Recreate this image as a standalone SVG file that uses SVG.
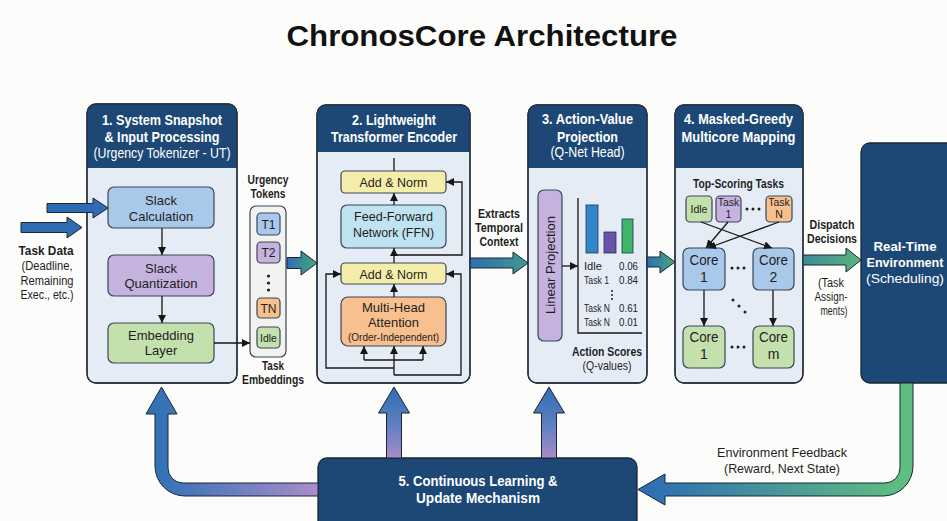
<svg xmlns="http://www.w3.org/2000/svg" width="947" height="521" viewBox="0 0 947 521">
<style>
text{font-family:"Liberation Sans",Arial,sans-serif;fill:#1e1e1e;text-anchor:middle}
.t{font-size:29px;font-weight:bold;fill:#111}
.hb{font-size:14px;font-weight:bold;fill:#fff}
.hr{font-size:14px;fill:#fff}
.lb{font-size:13px}
.sm{font-size:11px}
.bl{font-size:12px;font-weight:bold}
.rg{font-size:12px}
.panel{fill:#e6ecf6;stroke:#26303c;stroke-width:1.3}
.head{fill:#1d4876}
.frame{fill:none;stroke:#26303c;stroke-width:1.3}
.n{stroke:#3a4656;stroke-width:1.2}
.blue{fill:#a9c9ea}
.purp{fill:#c5b2de}
.green{fill:#c3e0ad}
.yel{fill:#f4eeaa}
.cyan{fill:#bfe3f0}
.orng{fill:#f7c08e}
.gray{fill:#f2f2f0}
.ln{fill:none;stroke:#161616;stroke-width:1.3}
.fat{stroke:#1a2633;stroke-width:1}
.dot{fill:#1e1e1e}
</style>
<defs>
<marker id="ah" viewBox="0 0 8 8" markerWidth="8" markerHeight="8" refX="8" refY="4" orient="auto" markerUnits="userSpaceOnUse"><path d="M0,0 L8,4 L0,8 z" fill="#161616"/></marker>
<linearGradient id="gBG" x1="0" y1="0" x2="1" y2="0"><stop offset="0" stop-color="#2f6db4"/><stop offset="1" stop-color="#45a97a"/></linearGradient>
<linearGradient id="gBT" x1="0" y1="0" x2="1" y2="0"><stop offset="0" stop-color="#2f6db4"/><stop offset="1" stop-color="#3f9a8c"/></linearGradient>
<linearGradient id="gTG" x1="0" y1="0" x2="1" y2="0"><stop offset="0" stop-color="#3c8c96"/><stop offset="1" stop-color="#5ab57c"/></linearGradient>
<linearGradient id="gUp" x1="0" y1="0" x2="0" y2="1"><stop offset="0" stop-color="#2f6db4"/><stop offset="0.5" stop-color="#5b7fc0"/><stop offset="1" stop-color="#a88ccb"/></linearGradient>
<linearGradient id="gL" gradientUnits="userSpaceOnUse" x1="318" y1="0" x2="160" y2="0"><stop offset="0" stop-color="#ab8ccb"/><stop offset="1" stop-color="#3472b6"/></linearGradient>
<linearGradient id="gR" gradientUnits="userSpaceOnUse" x1="905" y1="0" x2="645" y2="0"><stop offset="0" stop-color="#5fbf80"/><stop offset="1" stop-color="#2f6db4"/></linearGradient>
</defs>
<rect x="0" y="0" width="947" height="521" fill="#fcfcfb"/>
<text class="t" x="482" y="46" textLength="391" lengthAdjust="spacingAndGlyphs">ChronosCore Architecture</text>

<g id="input-labels">
<text class="bl" x="46" y="255" textLength="55" lengthAdjust="spacingAndGlyphs">Task Data</text>
<text class="rg" x="47" y="270" textLength="51" lengthAdjust="spacingAndGlyphs">(Deadline,</text>
<text class="rg" x="47" y="285" textLength="53" lengthAdjust="spacingAndGlyphs">Remaining</text>
<text class="rg" x="47" y="299" textLength="53" lengthAdjust="spacingAndGlyphs">Exec., etc.)</text>
</g>

<g id="box1">
<rect class="panel" x="87" y="104" width="150" height="279" rx="9"/>
<path class="head" d="M87,168 L87,113 Q87,104 96,104 L228,104 Q237,104 237,113 L237,168 Z"/>
<rect class="frame" x="87" y="104" width="150" height="279" rx="9"/>
<text class="hb" x="162" y="125" textLength="120" lengthAdjust="spacingAndGlyphs">1. System Snapshot</text>
<text class="hb" x="162" y="142" textLength="115" lengthAdjust="spacingAndGlyphs">&amp; Input Processing</text>
<text class="hr" x="162" y="158" textLength="137" lengthAdjust="spacingAndGlyphs">(Urgency Tokenizer - UT)</text>
<g id="slack-calc"><rect class="n blue" x="108" y="187" width="106" height="41" rx="6"/>
<text class="lb" x="161" y="205">Slack</text><text class="lb" x="161" y="221">Calculation</text></g>
<g id="slack-quant"><rect class="n purp" x="108" y="255" width="106" height="41" rx="6"/>
<text class="lb" x="161" y="273">Slack</text><text class="lb" x="161" y="288">Quantization</text></g>
<g id="embedding"><rect class="n green" x="108" y="323" width="106" height="40" rx="6"/>
<text class="lb" x="161" y="340">Embedding</text><text class="lb" x="161" y="355">Layer</text></g>
</g>

<g id="tokens">
<text class="bl" x="268" y="184" textLength="41" lengthAdjust="spacingAndGlyphs">Urgency</text>
<text class="bl" x="268" y="198" textLength="35" lengthAdjust="spacingAndGlyphs">Tokens</text>
<rect class="n gray" x="250" y="206" width="36" height="151" rx="6"/>
<rect class="n blue" x="257" y="213" width="23" height="22" rx="4"/><text class="rg" x="268.5" y="228.5">T1</text>
<rect class="n purp" x="257" y="242" width="23" height="21" rx="4"/><text class="rg" x="268.5" y="257">T2</text>
<circle class="dot" cx="268.5" cy="276" r="1.6"/><circle class="dot" cx="268.5" cy="283" r="1.6"/><circle class="dot" cx="268.5" cy="290" r="1.6"/>
<rect class="n orng" x="257" y="298" width="23" height="20" rx="4"/><text class="rg" x="268.5" y="312.5">TN</text>
<rect class="n green" x="257" y="327" width="23" height="21" rx="4"/><text x="268.5" y="341.5" style="font-size:10.5px">Idle</text>
<text class="bl" x="273" y="370" textLength="22" lengthAdjust="spacingAndGlyphs">Task</text>
<text class="bl" x="273" y="384" textLength="62" lengthAdjust="spacingAndGlyphs">Embeddings</text>
</g>

<g id="box2">
<rect class="panel" x="317" y="105" width="153" height="278" rx="9"/>
<path class="head" d="M317,152 L317,114 Q317,105 326,105 L461,105 Q470,105 470,114 L470,152 Z"/>
<rect class="frame" x="317" y="105" width="153" height="278" rx="9"/>
<text class="hb" x="394" y="125" textLength="84" lengthAdjust="spacingAndGlyphs">2. Lightweight</text>
<text class="hb" x="394" y="142" textLength="126" lengthAdjust="spacingAndGlyphs">Transformer Encoder</text>
<g id="addnorm-top"><rect class="n yel" x="341" y="171" width="105" height="22" rx="4"/>
<text class="lb" x="393.5" y="187" textLength="68" lengthAdjust="spacingAndGlyphs">Add &amp; Norm</text></g>
<g id="ffn"><rect class="n cyan" x="341" y="205" width="105" height="43" rx="6"/>
<text class="lb" x="393.5" y="221" textLength="79" lengthAdjust="spacingAndGlyphs">Feed-Forward</text>
<text class="lb" x="393.5" y="237" textLength="81" lengthAdjust="spacingAndGlyphs">Network (FFN)</text></g>
<g id="addnorm-bottom"><rect class="n yel" x="341" y="263" width="105" height="21" rx="4"/>
<text class="lb" x="393.5" y="278.5" textLength="68" lengthAdjust="spacingAndGlyphs">Add &amp; Norm</text></g>
<g id="mha"><rect class="n orng" x="341" y="297" width="105" height="49" rx="7"/>
<text class="lb" x="393.5" y="312" textLength="63" lengthAdjust="spacingAndGlyphs">Multi-Head</text>
<text class="lb" x="393.5" y="327" textLength="51" lengthAdjust="spacingAndGlyphs">Attention</text>
<text x="393.5" y="341" style="font-size:10.5px" textLength="91" lengthAdjust="spacingAndGlyphs">(Order-Independent)</text></g>
</g>

<g id="context-label">
<text class="bl" x="499" y="218" textLength="42" lengthAdjust="spacingAndGlyphs">Extracts</text>
<text class="bl" x="499" y="232" textLength="48" lengthAdjust="spacingAndGlyphs">Temporal</text>
<text class="bl" x="499" y="246" textLength="39" lengthAdjust="spacingAndGlyphs">Context</text>
</g>

<g id="box3">
<rect class="panel" x="528" y="105" width="119" height="278" rx="9"/>
<path class="head" d="M528,168 L528,114 Q528,105 537,105 L638,105 Q647,105 647,114 L647,168 Z"/>
<rect class="frame" x="528" y="105" width="119" height="278" rx="9"/>
<text class="hb" x="587.5" y="124" textLength="91" lengthAdjust="spacingAndGlyphs">3. Action-Value</text>
<text class="hb" x="587.5" y="142" textLength="61" lengthAdjust="spacingAndGlyphs">Projection</text>
<text class="hr" x="587.5" y="157" textLength="74" lengthAdjust="spacingAndGlyphs">(Q-Net Head)</text>
<g id="linear-proj"><rect class="n purp" x="538" y="190" width="24" height="151" rx="6"/>
<text class="lb" transform="translate(555,265) rotate(-90)" x="0" y="0" textLength="98" lengthAdjust="spacingAndGlyphs">Linear Projection</text></g>
<g id="scores">
<path class="ln" d="M578,198 L578,333 L642,333"/>
<rect x="586" y="205" width="12" height="48" fill="#2f86c8" stroke="#1f3550" stroke-width="0.8"/>
<rect x="604" y="232" width="12" height="21" fill="#6a52a8" stroke="#1f3550" stroke-width="0.8"/>
<rect x="622" y="219" width="11" height="34" fill="#3fb56a" stroke="#1f3550" stroke-width="0.8"/>
<text class="sm" x="584" y="270" style="text-anchor:start" textLength="18" lengthAdjust="spacingAndGlyphs">Idle</text><text class="sm" x="638" y="270" style="text-anchor:end" textLength="19" lengthAdjust="spacingAndGlyphs">0.06</text>
<text class="sm" x="584" y="284" style="text-anchor:start" textLength="25" lengthAdjust="spacingAndGlyphs">Task 1</text><text class="sm" x="638" y="284" style="text-anchor:end" textLength="19" lengthAdjust="spacingAndGlyphs">0.84</text>
<circle class="dot" cx="612" cy="291" r="1"/><circle class="dot" cx="612" cy="295" r="1"/><circle class="dot" cx="612" cy="299" r="1"/>
<text class="sm" x="584" y="312" style="text-anchor:start" textLength="26" lengthAdjust="spacingAndGlyphs">Task N</text><text class="sm" x="638" y="312" style="text-anchor:end" textLength="19" lengthAdjust="spacingAndGlyphs">0.61</text>
<text class="sm" x="584" y="326" style="text-anchor:start" textLength="26" lengthAdjust="spacingAndGlyphs">Task N</text><text class="sm" x="638" y="326" style="text-anchor:end" textLength="19" lengthAdjust="spacingAndGlyphs">0.01</text>
</g>
<text class="bl" x="607" y="356" textLength="70" lengthAdjust="spacingAndGlyphs">Action Scores</text>
<text class="rg" x="607" y="370" textLength="49" lengthAdjust="spacingAndGlyphs">(Q-values)</text>
</g>

<g id="box4">
<rect class="panel" x="675" y="105" width="128" height="278" rx="9"/>
<path class="head" d="M675,168 L675,114 Q675,105 684,105 L794,105 Q803,105 803,114 L803,168 Z"/>
<rect class="frame" x="675" y="105" width="128" height="278" rx="9"/>
<text class="hb" x="738.5" y="124" textLength="109" lengthAdjust="spacingAndGlyphs">4. Masked-Greedy</text>
<text class="hb" x="738.5" y="142" textLength="114" lengthAdjust="spacingAndGlyphs">Multicore Mapping</text>
<text class="bl" x="738.5" y="188" textLength="91" lengthAdjust="spacingAndGlyphs">Top-Scoring Tasks</text>
<g id="task-idle"><rect class="n green" x="686" y="196" width="26" height="26" rx="4"/><text x="699" y="213" style="font-size:10.5px">Idle</text></g>
<g id="task-1"><rect class="n purp" x="716" y="196" width="25" height="26" rx="4"/><text x="728.5" y="206" style="font-size:10.5px">Task</text><text x="728.5" y="218" style="font-size:10.5px">1</text></g>
<circle class="dot" cx="747" cy="209" r="1.5"/><circle class="dot" cx="753" cy="209" r="1.5"/><circle class="dot" cx="759" cy="209" r="1.5"/>
<g id="task-n"><rect class="n orng" x="766" y="196" width="26" height="26" rx="4"/><text x="779" y="206" style="font-size:10.5px">Task</text><text x="779" y="218" style="font-size:10.5px">N</text></g>
<g id="core1"><rect class="n blue" x="683" y="248" width="42" height="42" rx="6"/><text x="704" y="265" style="font-size:14px" textLength="29" lengthAdjust="spacingAndGlyphs">Core</text><text x="704" y="282" style="font-size:14px">1</text></g>
<circle class="dot" cx="732" cy="268" r="1.5"/><circle class="dot" cx="738" cy="268" r="1.5"/><circle class="dot" cx="744" cy="268" r="1.5"/>
<g id="core2"><rect class="n blue" x="753" y="248" width="41" height="42" rx="6"/><text x="773.5" y="265" style="font-size:14px" textLength="29" lengthAdjust="spacingAndGlyphs">Core</text><text x="773.5" y="282" style="font-size:14px">2</text></g>
<circle class="dot" cx="733" cy="300" r="1.5"/><circle class="dot" cx="739" cy="306" r="1.5"/><circle class="dot" cx="745" cy="312" r="1.5"/>
<g id="core1b"><rect class="n green" x="683" y="326" width="42" height="42" rx="6"/><text x="704" y="342" style="font-size:14px" textLength="29" lengthAdjust="spacingAndGlyphs">Core</text><text x="704" y="359" style="font-size:14px">1</text></g>
<circle class="dot" cx="732" cy="347" r="1.5"/><circle class="dot" cx="738" cy="347" r="1.5"/><circle class="dot" cx="744" cy="347" r="1.5"/>
<g id="corem"><rect class="n green" x="753" y="326" width="41" height="42" rx="6"/><text x="773.5" y="342" style="font-size:14px" textLength="29" lengthAdjust="spacingAndGlyphs">Core</text><text x="773.5" y="359" style="font-size:14px">m</text></g>
</g>

<g id="dispatch-label">
<text class="bl" x="832" y="229" textLength="45" lengthAdjust="spacingAndGlyphs">Dispatch</text>
<text class="bl" x="832" y="243" textLength="50" lengthAdjust="spacingAndGlyphs">Decisions</text>
<text class="rg" x="831" y="287" textLength="26" lengthAdjust="spacingAndGlyphs">(Task</text>
<text class="rg" x="831" y="301" textLength="33" lengthAdjust="spacingAndGlyphs">Assign-</text>
<text class="rg" x="834" y="315" textLength="27" lengthAdjust="spacingAndGlyphs">ments)</text>
</g>

<g id="environment">
<rect x="861" y="143" width="100" height="240" rx="9" fill="#1d4876" stroke="#1a2633" stroke-width="1.3"/>
<text class="hb" x="905" y="251" style="font-size:13.5px" textLength="63" lengthAdjust="spacingAndGlyphs">Real-Time</text>
<text class="hb" x="905" y="267" style="font-size:13px" textLength="77" lengthAdjust="spacingAndGlyphs">Environment</text>
<text class="hr" x="905" y="283" style="font-size:13.5px" textLength="78" lengthAdjust="spacingAndGlyphs">(Scheduling)</text>
</g>

<g id="box5">
<rect x="318" y="458" width="319" height="75" rx="9" fill="#1d4876" stroke="#1a2633" stroke-width="1.3"/>
<text class="hb" x="478" y="486" textLength="159" lengthAdjust="spacingAndGlyphs">5. Continuous Learning &amp;</text>
<text class="hb" x="478" y="503" textLength="124" lengthAdjust="spacingAndGlyphs">Update Mechanism</text>
</g>

<g id="feedback-label">
<text class="rg" x="782" y="457" style="font-size:13px" textLength="130" lengthAdjust="spacingAndGlyphs">Environment Feedback</text>
<text class="rg" x="782" y="473" style="font-size:13px" textLength="116" lengthAdjust="spacingAndGlyphs">(Reward, Next State)</text>
</g>

<g id="connectors">
<path class="fat" fill="#2e6db3" d="M47,203.5 L93,203.5 L93,198 L108,208 L93,218 L93,212.5 L47,212.5 Z"/>
<path class="fat" fill="#2e6db3" d="M21,222.5 L67,222.5 L67,217 L82,227.5 L67,238 L67,232.5 L21,232.5 Z"/>
<path class="fat" fill="url(#gBG)" d="M287,257.5 L301,257.5 L301,251 L317,263 L301,275 L301,268.5 L287,268.5 Z"/>
<path class="fat" fill="url(#gBT)" d="M470,258 L513,258 L513,252 L528,263 L513,274 L513,268 L470,268 Z"/>
<path class="fat" fill="url(#gBG)" d="M647,257 L660,257 L660,251 L675,262 L660,273 L660,267 L647,267 Z"/>
<path class="fat" fill="url(#gTG)" d="M803,255 L846,255 L846,248 L861,260 L846,272 L846,265 L803,265 Z"/>
<path class="fat" fill="url(#gUp)" d="M386.5,458 L386.5,413 L378.5,413 L394,387 L409.5,413 L401.5,413 L401.5,458 Z"/>
<path class="fat" fill="url(#gUp)" d="M541.5,458 L541.5,413 L533.5,413 L549,387 L564.5,413 L556.5,413 L556.5,458 Z"/>
<path class="fat" fill="url(#gL)" d="M318,483 L183,483 A15,15 0 0 1 168,468 L168,414 L177,414 L161.5,387 L146,414 L155,414 L155,466 A30,30 0 0 0 185,496 L318,496 Z"/>
<path class="fat" fill="url(#gR)" d="M900,383 L913,383 L913,466 A30,30 0 0 1 883,496 L665,496 L665,505 L638,489.5 L665,474 L665,483 L885,483 A15,15 0 0 0 900,468 Z"/>
<path class="ln" marker-end="url(#ah)" d="M162,228 L162,255"/>
<path class="ln" marker-end="url(#ah)" d="M162,296 L162,323"/>
<path class="ln" marker-end="url(#ah)" d="M214,343 L250,343"/>
<path class="ln" d="M394,158 L394,171"/>
<path class="ln" marker-end="url(#ah)" d="M394,205 L394,193"/>
<path class="ln" marker-end="url(#ah)" d="M394,263 L394,248"/>
<path class="ln" marker-end="url(#ah)" d="M394,297 L394,284"/>
<path class="ln" marker-end="url(#ah)" d="M394,255 L462,255 L462,182 L446,182"/>
<path class="ln" marker-end="url(#ah)" d="M394,368 L326,368 L326,274 L341,274"/>
<path class="ln" marker-end="url(#ah)" d="M394,375 L461,375 L461,274 L446,274"/>
<path class="ln" marker-end="url(#ah)" d="M394,375 L394,346"/>
<path class="ln" d="M364,360 L423,360"/>
<path class="ln" marker-end="url(#ah)" d="M364,360 L364,346"/>
<path class="ln" marker-end="url(#ah)" d="M423,360 L423,346"/>
<path class="ln" marker-end="url(#ah)" d="M562,266 L578,266"/>
<path class="ln" marker-end="url(#ah)" d="M701,222 L772,248"/>
<path class="ln" marker-end="url(#ah)" d="M728,222 L706,248"/>
<path class="ln" marker-end="url(#ah)" d="M779,222 L708,248"/>
<path class="ln" marker-end="url(#ah)" d="M704,290 L704,326"/>
<path class="ln" marker-end="url(#ah)" d="M773,290 L773,326"/>
</g>
</svg>
